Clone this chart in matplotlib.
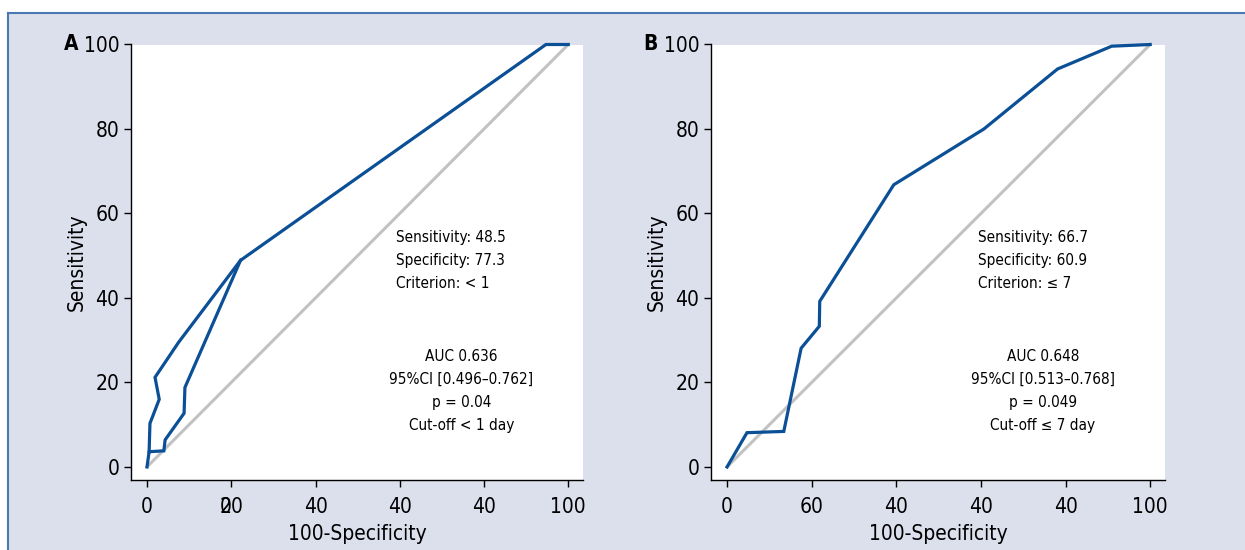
import matplotlib
matplotlib.use("Agg")
import matplotlib.pyplot as plt
from matplotlib import font_manager
from matplotlib.patches import Rectangle
from matplotlib.lines import Line2D

# panel A: ROC curve drawn as two branches that meet at the cut-off point
a_main_x = [0, 0.5, 4.0, 4.3, 8.8, 9.0, 22.2, 94.7, 100]
a_main_y = [0, 3.6, 3.8, 6.4, 12.7, 18.8, 48.9, 100, 100]
a_loop_x = [0.5, 0.7, 2.9, 1.9, 7.5, 22.2]
a_loop_y = [3.6, 10.3, 16.0, 21.2, 29.5, 48.9]

# panel B: ROC curve
b_x = [0, 4.7, 13.4, 17.5, 21.8, 21.9, 39.4, 60.7, 78.1, 90.9, 100]
b_y = [0, 8.1, 8.4, 28.1, 33.3, 39.2, 66.8, 80.0, 94.2, 99.6, 100]

ticks = [0, 20, 40, 60, 80, 100]
a_xticklabels = ["0", "20", "40", "40", "40", "100"]
b_xticklabels = ["0", "60", "40", "40", "40", "100"]

a_stats = ["Sensitivity: 48.5", "Specificity: 77.3", "Criterion: < 1"]
a_auc = ["AUC 0.636", "95%CI [0.496\u20130.762]", "p = 0.04", "Cut-off < 1 day"]
b_stats = ["Sensitivity: 66.7", "Specificity: 60.9", "Criterion: \u2264 7"]
b_auc = ["AUC 0.648", "95%CI [0.513\u20130.768]", "p = 0.049", "Cut-off \u2264 7 day"]

names = {f.name for f in font_manager.fontManager.ttflist}
if "Liberation Sans Narrow" in names:
    plt.rcParams["font.family"] = ["Liberation Sans Narrow", "DejaVu Sans"]
else:
    plt.rcParams["font.family"] = ["DejaVu Sans"]
    plt.rcParams["font.stretch"] = "condensed"

BLUE = "#0b4f96"
GREY = "#c2c2c2"
BG = "#dcdfec"

fig = plt.figure(figsize=(12.45, 5.5), dpi=100)
fig.patch.set_facecolor("white")
fig.patches.append(Rectangle((8 / 1245, 0), 1, 1 - 13 / 550, transform=fig.transFigure,
                             facecolor=BG, edgecolor="none", zorder=-10))
fig.lines.append(Line2D([8 / 1245, 1], [1 - 13 / 550] * 2, transform=fig.transFigure,
                        color="#4a78b2", lw=1.5))
fig.lines.append(Line2D([8 / 1245] * 2, [0, 1 - 13 / 550], transform=fig.transFigure,
                        color="#4a78b2", lw=1.5))


def panel(rect, letter, curves, xlabels, stats, auc):
    ax = fig.add_axes(rect)
    ax.set_facecolor("white")
    ax.plot([0, 100], [0, 100], color=GREY, lw=2.2, clip_on=False, zorder=2)
    for xs, ys in curves:
        ax.plot(xs, ys, color=BLUE, lw=2.3, clip_on=False, zorder=3,
                solid_joinstyle="miter")
    ax.set_xlim(-3.8, 103.5)
    ax.set_ylim(-3.1, 100)
    for s in ["top", "right"]:
        ax.spines[s].set_visible(False)
    for s in ["left", "bottom"]:
        ax.spines[s].set_linewidth(1.0)
    ax.set_xticks(ticks)
    ax.set_xticklabels(xlabels)
    ax.set_yticks(ticks)
    ax.tick_params(labelsize=15, length=5, width=1.0)
    ax.tick_params(axis="x", pad=7)
    ax.set_xlabel("100-Specificity", fontsize=15, labelpad=5)
    ax.set_ylabel("Sensitivity", fontsize=15, labelpad=-2)
    ax.text(-0.117, 1.0, letter, transform=ax.transAxes, fontsize=15,
            fontweight="bold", ha="right", va="center")
    for i, line in enumerate(stats):
        ax.text(59.2, 54.3 - i * 5.45, line, fontsize=11, ha="left", va="center")
    for i, line in enumerate(auc):
        ax.text(74.6, 26.1 - i * 5.45, line, fontsize=11, ha="center", va="center")
    return ax


axA = panel([131 / 1245, 1 - 480 / 550, 452 / 1245, 435.5 / 550], "A",
            [(a_main_x, a_main_y), (a_loop_x, a_loop_y)], a_xticklabels, a_stats, a_auc)
# overlapping "0" glyph under the "20" tick label, as in the source figure
axA.annotate("0", xy=(20, 0), xycoords=("data", "axes fraction"),
             xytext=(-4, -12), textcoords="offset points",
             fontsize=15, ha="center", va="top")

panel([711 / 1245, 1 - 480 / 550, 454 / 1245, 435.5 / 550], "B",
      [(b_x, b_y)], b_xticklabels, b_stats, b_auc)

fig.savefig("out.png", dpi=100, facecolor=fig.get_facecolor())
